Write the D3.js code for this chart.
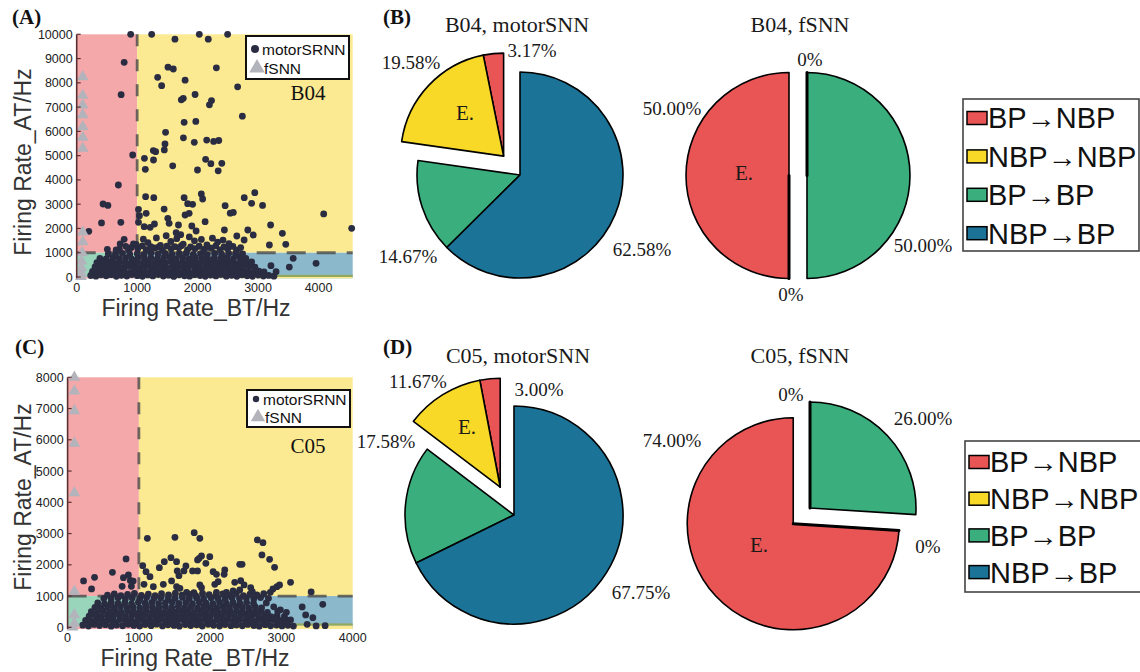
<!DOCTYPE html>
<html>
<head>
<meta charset="utf-8">
<script src="https://cdn.jsdelivr.net/npm/d3@7"></script>
<style>
  body { margin: 0; background: #ffffff; }
  svg { display: block; }
</style>
</head>
<body>
<svg id="fig" width="1140" height="672"></svg>
<script>
// ---------------------------------------------------------------
// Data
// ---------------------------------------------------------------
const transitionCategories = ["BP\u2192NBP", "NBP\u2192NBP", "BP\u2192BP", "NBP\u2192BP"];

// pie shares (%), in category order
const b04MotorShares = [3.17, 19.58, 14.67, 62.58];
const b04FsnnShares  = [50.00, 0, 50.00, 0];
const c05MotorShares = [3.00, 11.67, 17.58, 67.75];
const c05FsnnShares  = [74.00, 0, 26.00, 0];

const b04XTicks = [0, 1000, 2000, 3000, 4000];
const b04YTicks = [0, 1000, 2000, 3000, 4000, 5000, 6000, 7000, 8000, 9000, 10000];
const c05XTicks = [0, 1000, 2000, 3000, 4000];
const c05YTicks = [0, 1000, 2000, 3000, 4000, 5000, 6000, 7000, 8000];

// B04: firing rates [BT Hz, AT Hz] per neuron, motorSRNN — sparse high-rate neurons
const b04MotorSparse = [
  [893,10000],[1240,10000],[1625,9800],[2028,10000],[2176,9800],[2496,10000],
  [785,8846],[1339,8228],[1405,7885],[1510,8645],[1598,8571],[1793,8110],[2310,8620],[2662,7835],
  [735,7512],[1730,7300],[1763,7360],[1958,7520],[2230,7270],[2195,7095],[2740,6628],
  [1777,6374],[1970,6410],[1470,5962],[1460,5485],[1765,5735],[1945,5550],[2150,5640],[2265,5585],[2350,5625],
  [926,5027],[1120,4890],[1267,5210],[1306,5165],[1270,4821],[1449,5234],[1135,4437],[1588,4580],
  [2132,4849],[2219,4670],[2400,4684],[1998,4409],[2340,4375],
  [689,3791],[1140,3310],[1275,3270],[1777,3270],[2061,3420],[2083,3214],[1917,2995],[1835,3022],
  [2945,3475],[2771,3269],[2893,3036],[3074,2950],
  [436,3008],[516,2950],[1446,2800],[1022,2789],[1038,2527],[2455,2938],[2540,2630],[2590,2660],
  [2830,1937],[2920,1731],[3207,2143],[2648,1689],[4085,2600],[4548,2005],[3402,1800],[3458,1347],[3187,1318],
  [3581,769],[3517,410],[3959,564],[3213,466],[3298,218],
  [200,1880],[410,2230],[730,2253],[785,1553],[507,1141],[653,1112],[719,1360],[939,1360],
  [1022,2253],[1116,2074],[1149,2623],[1215,2047],[1286,2184],[1507,2418],[1529,2212],[1683,2143],
  [1645,1827],[1793,2555],[1860,2623],[1904,2101],[2124,2279],[1975,1895],[2443,1937],[2769,1525]
];

// B04: motorSRNN — dense low-rate population
const b04MotorDense = [
  [232,62],[318,35],[402,88],[487,48],[566,95],[655,30],[738,70],[829,42],[912,98],[1003,55],[1088,28],[1176,84],
  [1259,46],[1348,102],[1433,38],[1521,77],[1606,25],[1694,90],[1783,51],[1868,33],[1953,96],[2041,60],[2127,27],
  [2214,83],[2302,45],[2386,99],[2474,36],[2561,72],[2648,29],[2733,88],[2819,52],[2908,31],[3002,79],[3088,40],
  [3176,64],[3262,34],
  [262,228],[351,196],[444,251],[528,214],[618,262],[703,205],[787,240],[884,193],[968,257],[1061,220],[1149,188],
  [1243,246],[1327,209],[1418,265],[1503,199],[1592,238],[1677,212],[1772,255],[1858,190],[1951,231],[2038,268],
  [2124,203],[2207,244],[2303,216],[2388,259],[2483,192],[2566,235],[2652,207],[2741,250],[2833,224],[2917,189],
  [3012,242],[3098,211],
  [304,412],[397,378],[493,436],[577,395],[672,421],[758,382],[853,445],[947,401],[1042,372],[1128,430],[1223,389],
  [1308,447],[1402,406],[1487,376],[1583,438],[1668,398],[1763,425],[1848,384],[1943,442],[2028,409],[2123,374],
  [2208,433],[2304,392],[2388,449],[2483,403],[2567,380],[2662,428],[2748,395],[2853,437],[2947,404],
  [334,588],[428,560],[523,612],[617,574],[712,625],[807,566],[903,598],[998,621],[1093,571],[1187,606],[1283,563],
  [1378,617],[1472,582],[1568,629],[1663,568],[1757,603],[1853,576],[1948,623],[2043,587],[2137,562],[2233,611],
  [2328,579],[2423,626],[2518,592],[2612,565],[2707,608],[2802,584],[2893,619],
  [384,768],[488,742],[597,795],[703,756],[808,781],[913,739],[1018,802],[1122,761],[1227,788],[1333,745],[1437,779],
  [1543,808],[1647,750],[1752,786],[1858,742],[1963,799],[2068,765],[2172,736],[2277,792],[2383,758],[2487,783],
  [2592,747],[2698,806],[2797,770],
  [523,951],[642,928],[757,973],[878,940],[1002,962],[1113,918],[1228,985],[1347,944],[1463,969],[1578,925],
  [1697,958],[1813,982],[1928,935],[2052,966],[2158,921],[2283,977],[2397,942],[2512,964],[2628,929],[2742,956],
  [706,1140],[857,1112],[1012,1178],[1148,1125],[1292,1196],[1418,1108],[1563,1163],[1688,1201],[1832,1118],
  [1958,1172],[2103,1135],[2228,1189],[2372,1120],[2497,1158],[2643,1106],
  [812,1262],[905,1215],[1085,1283],[1226,1251],[1355,1230],[1490,1274],[1622,1248],[1731,1290],[1885,1236],
  [2025,1268],[2167,1226],[2301,1282],[2436,1244],[2584,1259],[2712,1213],
  [983,1342],[1178,1418],[1384,1305],[1557,1462],[1762,1356],[1948,1489],[2154,1327],[2331,1441],[2518,1372],
  [1102,1560],[1318,1612],[1655,1580],[1863,1651],[2062,1547],[2245,1598],[2420,1523],[1480,1700],[1720,1745]
];

// B04: fSNN neurons
const b04Fsnn = [
  [100,8250],[100,7480],[100,7080],[100,6680],[100,6190],[100,5750],[100,5300],
  [100,1850],[100,1450],[90,1000],[80,650],[80,380],[75,150],[70,20]
];

// C05: motorSRNN — sparse neurons above the dense band
const c05MotorSparse = [
  [1119,2848],[1506,2880],[1776,3029],[1855,2848],[2662,2795],[2741,2709],[2727,2315],[2834,2176],[2904,1920],
  [3128,1440],[3417,1131],[3580,736],[3291,651],[3340,395],[3441,309],[3487,43],[3613,53],[3361,96],
  [3070,480],[2985,560],[3080,230],[2900,290],[2975,130],
  [820,2187],[629,1760],[378,1600],[224,1483],[336,1227],[783,1589],[853,1675],[880,1500],[920,1480],[895,1310],[765,1310],
  [1054,1973],[1100,1781],[1156,1621],[1072,1376],[1203,1301],[1287,1909],[1357,2101],[1450,2229],[1529,2101],
  [1538,1803],[1562,1653],[1660,1963],[1632,1803],[1753,1803],[1823,2155],[1846,2208],[1879,2283],[1940,2048],
  [1995,2261],[1823,1803],[2042,1781],[2088,1696],[2205,1835],[2196,1696],[2415,2016],[2448,2016],[2429,1493],
  [2345,1440],[2476,1355],[2112,1461],[2065,1376],[1855,1355],[1879,1269],[1459,1483],[1529,1301],[1343,1376],
  [2569,1269],[2592,1141],[2881,1227],[2937,1301],[2974,1355],[2844,1120],[2415,1195],[2322,1163],[2228,1120],
  [2088,1120],[1669,1120],[1576,1248],[1772,1109]
];

// C05: motorSRNN — dense low-rate population
const c05MotorDense = [
  [212,68],[293,41],[372,92],[448,55],[531,83],[612,37],[688,74],[772,49],[851,95],[928,60],[1011,38],[1089,86],
  [1172,52],[1248,99],[1331,44],[1409,78],[1492,61],[1568,35],[1652,90],[1728,57],[1811,81],[1889,42],[1972,96],
  [2048,63],[2131,39],[2209,87],[2292,53],[2368,75],[2451,46],[2528,93],[2612,58],[2689,36],[2772,84],[2848,50],
  [2931,70],[3008,44],[3091,62],[3168,39],
  [253,218],[331,196],[412,241],[489,207],[572,233],[648,192],[731,247],[812,211],[889,229],[972,199],[1049,244],
  [1131,215],[1212,188],[1291,238],[1372,204],[1449,226],[1532,193],[1611,249],[1689,212],[1772,236],[1851,201],
  [1929,243],[2012,190],[2091,228],[2169,209],[2252,246],[2331,197],[2409,232],[2492,214],[2571,240],[2649,195],
  [2732,225],[2811,206],[2889,248],[2972,218],[3051,200],[3128,236],
  [302,356],[388,378],[471,339],[558,370],[641,348],[727,384],[812,343],[898,367],[983,352],[1068,389],[1151,337],
  [1238,364],[1322,381],[1407,345],[1493,372],[1578,341],[1661,386],[1748,358],[1832,338],[1917,375],[2002,349],
  [2088,383],[2171,344],[2258,368],[2342,336],[2427,379],[2512,353],[2597,388],[2681,347],[2767,371],[2852,340],
  [2938,366],[3041,352],
  [333,497],[418,472],[502,518],[588,485],[673,509],[757,478],[843,522],[928,490],[1012,475],[1098,514],[1183,488],
  [1268,524],[1352,471],[1438,505],[1522,482],[1607,519],[1693,493],[1777,470],[1862,511],[1947,486],[2033,521],
  [2117,477],[2202,502],[2288,489],[2372,517],[2457,473],[2543,508],[2627,492],[2712,523],[2803,480],[2948,510],
  [384,638],[472,617],[563,654],[651,629],[742,661],[832,622],[921,647],[1013,615],[1102,658],[1191,633],[1283,619],
  [1372,652],[1461,628],[1553,664],[1642,621],[1731,645],[1823,612],[1912,657],[2001,632],[2093,618],[2182,650],
  [2271,626],[2363,662],[2452,637],[2541,615],[2633,649],[2722,624],[2892,655],
  [423,778],[518,756],[612,795],[707,764],[803,787],[897,752],[993,798],[1088,769],[1182,791],[1278,758],[1372,782],
  [1468,801],[1562,761],[1658,789],[1752,755],[1848,794],[1943,771],[2038,759],[2132,797],[2228,766],[2322,785],
  [2418,753],[2512,792],[2608,768],[2788,781],
  [508,927],[611,902],[708,948],[812,915],[907,939],[1011,908],[1108,952],[1212,921],[1307,944],[1411,905],
  [1508,933],[1612,957],[1707,918],[1811,941],[1908,910],[2012,949],[2107,926],[2211,903],[2307,946],[2411,919],
  [2508,937],[2612,912],[2707,951],[2818,928],
  [560,1032],[655,1068],[748,1015],[842,1052],[938,1088],[1035,1021],[1133,1064],[1227,1009],[1318,1077],
  [1416,1038],[1512,1092],[1605,1026],[1703,1058],[1797,1013],[1893,1081],[1986,1044],[2083,1017],[2177,1069],
  [2274,1031],[2368,1084],[2466,1012],[2559,1057],[2655,1036],[2752,1073]
];

// C05: fSNN neurons
const c05Fsnn = [
  [95,8000],[95,7560],[95,6930],[95,5890],[95,4300],[95,1150],[95,400],[95,130],[70,10]
];

// ---------------------------------------------------------------
// Styling
// ---------------------------------------------------------------
const SANS = "'Liberation Sans', Arial, Helvetica, sans-serif";
const SERIF = "'Liberation Serif', 'Times New Roman', Times, serif";
const SLICE_COLORS = ["#e95455", "#f8d927", "#3aae7d", "#1c7398"];
const ZONE_COLORS = { red: "#f4a8a9", yellow: "#fbea92", green: "#98d5bb", blue: "#8bb8cb", olive: "#93a95e" };
const DOT_COLOR = "#2a2c42";
const TRI_COLOR = "#b3b3bc";

const svg = d3.select("#fig");

// ---------------------------------------------------------------
// Scatter panels (A, C)
// ---------------------------------------------------------------
function scatterPanel(p) {
  const x = d3.scaleLinear().domain(p.xDomain).range(p.xRange);
  const y = d3.scaleLinear().domain(p.yDomain).range(p.yRange);
  const g = svg.append("g");
  const xMax = p.xDomain[1], yMax = p.yDomain[1], yMin = -55, thr = 1000;

  // region backgrounds (BP / NBP quadrants)
  const zones = [
    { x0: 0,   x1: thr,  y0: thr,          y1: yMax,         c: ZONE_COLORS.red },
    { x0: thr, x1: xMax, y0: thr,          y1: yMax,         c: ZONE_COLORS.yellow },
    { x0: 0,   x1: thr,  y0: yMin,         y1: thr,          c: ZONE_COLORS.green },
    { x0: thr, x1: xMax, y0: yMin,         y1: thr,          c: ZONE_COLORS.blue },
    { x0: thr, x1: xMax, y0: p.strip[0],   y1: p.strip[1],   c: ZONE_COLORS.olive },
    { x0: thr, x1: xMax, y0: yMin,         y1: p.strip[0],   c: ZONE_COLORS.yellow },
    { x0: 0,   x1: thr,  y0: yMin,         y1: p.strip[0],   c: ZONE_COLORS.red }
  ];
  g.selectAll("rect.zone").data(zones).join("rect")
    .attr("class", "zone")
    .attr("x", d => x(d.x0)).attr("width", d => x(d.x1) - x(d.x0))
    .attr("y", d => y(d.y1)).attr("height", d => y(d.y0) - y(d.y1))
    .attr("fill", d => d.c);

  // threshold lines
  g.append("line")
    .attr("x1", x(thr)).attr("x2", x(thr)).attr("y1", y(yMax)).attr("y2", y(yMin))
    .attr("stroke", "#4a4a4a").attr("stroke-opacity", 0.8).attr("stroke-width", 2.8)
    .attr("stroke-dasharray", "12,13");
  g.append("line")
    .attr("x1", x(0)).attr("x2", x(xMax)).attr("y1", y(thr)).attr("y2", y(thr))
    .attr("stroke", "#4a4a4a").attr("stroke-opacity", 0.8).attr("stroke-width", 2.8)
    .attr("stroke-dasharray", "19,11");

  // motorSRNN neurons
  g.selectAll("circle.motor").data(p.dense.concat(p.sparse)).join("circle")
    .attr("class", "motor")
    .attr("cx", d => x(d[0])).attr("cy", d => y(d[1])).attr("r", 3.4)
    .attr("fill", DOT_COLOR);

  // fSNN neurons
  const tri = d3.symbol().type(d3.symbolTriangle).size(60);
  g.selectAll("path.fsnn").data(p.fsnn).join("path")
    .attr("class", "fsnn")
    .attr("transform", d => `translate(${x(d[0])},${y(d[1])})`)
    .attr("d", tri).attr("fill", TRI_COLOR);

  // y axis
  const axisColor = "#5b2f30";
  g.append("line")
    .attr("x1", x(0)).attr("x2", x(0)).attr("y1", y(yMax)).attr("y2", y(yMin))
    .attr("stroke", axisColor).attr("stroke-width", 1.6);
  g.selectAll("line.ytick").data(p.yTicks).join("line")
    .attr("class", "ytick")
    .attr("x1", x(0)).attr("x2", x(0) + 4)
    .attr("y1", d => y(d)).attr("y2", d => y(d))
    .attr("stroke", axisColor).attr("stroke-width", 1.2);
  g.selectAll("text.ylab").data(p.yTicks).join("text")
    .attr("class", "ylab")
    .attr("x", x(0) - 4).attr("y", d => y(d)).attr("dy", "0.36em")
    .attr("text-anchor", "end")
    .attr("font-family", SANS).attr("font-size", 12.5).attr("fill", "#222")
    .text(d => d);
  g.selectAll("text.xlab").data(p.xTicks).join("text")
    .attr("class", "xlab")
    .attr("x", d => x(d)).attr("y", y(0) + 14.5)
    .attr("text-anchor", "middle")
    .attr("font-family", SANS).attr("font-size", 12.5).attr("fill", "#222")
    .text(d => d);

  // axis titles
  g.append("text")
    .attr("x", p.xTitle[0]).attr("y", p.xTitle[1])
    .attr("text-anchor", "middle")
    .attr("font-family", SANS).attr("font-size", 23).attr("fill", "#333")
    .text("Firing Rate_BT/Hz");
  g.append("text")
    .attr("transform", `translate(${p.yTitle[0]},${p.yTitle[1]}) rotate(-90)`)
    .attr("text-anchor", "middle")
    .attr("font-family", SANS).attr("font-size", 23).attr("fill", "#333")
    .text("Firing Rate_AT/Hz");

  // legend
  const L = p.legend;
  g.append("rect")
    .attr("x", L.x).attr("y", L.y).attr("width", L.w).attr("height", L.h)
    .attr("fill", "#fff").attr("stroke", "#111").attr("stroke-width", 2);
  g.append("circle").attr("cx", L.x + 9).attr("cy", L.row1).attr("r", L.dotR).attr("fill", DOT_COLOR);
  g.append("text").attr("x", L.x + 16).attr("y", L.row1).attr("dy", "0.36em")
    .attr("font-family", SANS).attr("font-size", 15.5).attr("fill", "#111").text("motorSRNN");
  g.append("path")
    .attr("transform", `translate(${L.x + 11},${L.row2})`)
    .attr("d", d3.symbol().type(d3.symbolTriangle).size(L.triSize)).attr("fill", TRI_COLOR);
  g.append("text").attr("x", L.x + 18).attr("y", L.row2).attr("dy", "0.4em")
    .attr("font-family", SANS).attr("font-size", 15.5).attr("fill", "#111").text("fSNN");

  // dataset tag
  g.append("text").attr("x", p.tag[0]).attr("y", p.tag[1])
    .attr("text-anchor", "middle")
    .attr("font-family", SERIF).attr("font-size", 21).attr("fill", "#111")
    .text(p.tagText);
  return g;
}

scatterPanel({
  xDomain: [0, 4565], xRange: [76.7, 352.7],
  yDomain: [0, 10000], yRange: [277, 34.3],
  xTicks: b04XTicks, yTicks: b04YTicks,
  strip: [0, 90],
  dense: b04MotorDense, sparse: b04MotorSparse, fsnn: b04Fsnn,
  xTitle: [196, 315.5], yTitle: [31, 162],
  legend: { x: 246, y: 36, w: 103, h: 43, row1: 49, row2: 68, dotR: 4, triSize: 105 },
  tag: [308, 100], tagText: "B04"
});

scatterPanel({
  xDomain: [0, 4000], xRange: [67.6, 352.7],
  yDomain: [0, 8000], yRange: [627.3, 377.3],
  xTicks: c05XTicks, yTicks: c05YTicks,
  strip: [50, 125],
  dense: c05MotorDense, sparse: c05MotorSparse, fsnn: c05Fsnn,
  xTitle: [195, 665.5], yTitle: [31, 497],
  legend: { x: 247, y: 390, w: 103, h: 37, row1: 399, row2: 417, dotR: 3.2, triSize: 90 },
  tag: [308, 453], tagText: "C05"
});

// ---------------------------------------------------------------
// Pie panels (B, D)
// ---------------------------------------------------------------
const fmtShare = v => v === 0 ? "0%" : v.toFixed(2) + "%";

function piePanel(p) {
  const g = svg.append("g").attr("transform", `translate(${p.cx},${p.cy})`);
  // slices laid out counter-clockwise from 12 o'clock
  const arcs = d3.pie().sort(null).value(d => d).startAngle(0).endAngle(-2 * Math.PI)(p.shares);
  const arc = d3.arc().innerRadius(0).outerRadius(p.r);
  // the first two categories are pulled out together
  const mid = (arcs[0].startAngle + arcs[1].endAngle) / 2;
  const ex = Math.sin(mid) * p.explode, ey = -Math.cos(mid) * p.explode;

  g.selectAll("path.slice").data(arcs).join("path")
    .attr("class", "slice")
    .attr("transform", (d, i) => i < 2 ? `translate(${ex},${ey})` : null)
    .attr("d", arc)
    .attr("fill", (d, i) => SLICE_COLORS[i])
    .attr("stroke", "#000")
    .attr("stroke-width", d => d.value === 0 ? 3 : 1.6)
    .attr("stroke-linejoin", "round");

  g.selectAll("text.pct").data(arcs).join("text")
    .attr("class", "pct")
    .attr("x", (d, i) => p.labelPos[i][0]).attr("y", (d, i) => p.labelPos[i][1])
    .attr("dy", "0.35em").attr("text-anchor", "middle")
    .attr("font-family", SERIF).attr("font-size", 19).attr("fill", "#1a1a1a")
    .text(d => fmtShare(d.value));

  g.append("text")
    .attr("x", p.ePos[0]).attr("y", p.ePos[1]).attr("dy", "0.35em")
    .attr("text-anchor", "middle")
    .attr("font-family", SERIF).attr("font-size", 21).attr("fill", "#1a1a1a")
    .text("E.");

  svg.append("text")
    .attr("x", p.title[0]).attr("y", p.title[1]).attr("text-anchor", "middle")
    .attr("font-family", SERIF).attr("font-size", 22).attr("fill", "#1a1a1a")
    .text(p.titleText);
}

piePanel({ cx: 520, cy: 175, r: 103, explode: 25, shares: b04MotorShares,
  labelPos: [[12, -125], [-109, -113], [-112, 81], [122, 74]], ePos: [-55, -62],
  title: [517, 32], titleText: "B04, motorSNN" });
piePanel({ cx: 807, cy: 175.5, r: 103, explode: 18, shares: b04FsnnShares,
  labelPos: [[-135, -67], [-16, 118.5], [116, 69.5], [3, -116.5]], ePos: [-63, -3],
  title: [800, 32], titleText: "B04, fSNN" });
piePanel({ cx: 514, cy: 515, r: 109, explode: 31, shares: c05MotorShares,
  labelPos: [[25, -126], [-96, -134], [-128, -74], [127, 77]], ePos: [-47, -88],
  title: [518, 363], titleText: "C05, motorSNN" });
piePanel({ cx: 810, cy: 508, r: 106, explode: 23, shares: c05FsnnShares,
  labelPos: [[-138, -68], [118, 38], [113, -90], [-19, -114]], ePos: [-51, 37],
  title: [800, 363], titleText: "C05, fSNN" });

// ---------------------------------------------------------------
// Category legends
// ---------------------------------------------------------------
function categoryLegend(L) {
  const g = svg.append("g");
  g.append("rect").attr("x", L.x).attr("y", L.y).attr("width", L.w).attr("height", L.h)
    .attr("fill", "#fff").attr("stroke", "#444").attr("stroke-width", 1.6);
  const rows = g.selectAll("g.row").data(transitionCategories).join("g")
    .attr("class", "row")
    .attr("transform", (d, i) => `translate(${L.x + 4},${L.row0 + i * L.step})`);
  rows.append("rect").attr("x", 0).attr("y", -6.5).attr("width", 20).attr("height", 13)
    .attr("fill", (d, i) => SLICE_COLORS[i]).attr("stroke", "#000").attr("stroke-width", 1.5);
  rows.append("text").attr("x", 21).attr("y", 0).attr("dy", "0.36em")
    .attr("font-family", SANS).attr("font-size", 29).attr("fill", "#111")
    .text(d => d);
}
categoryLegend({ x: 963, y: 99, w: 176, h: 152, row0: 118, step: 38.4 });
categoryLegend({ x: 965, y: 441, w: 176, h: 151, row0: 462, step: 36.7 });

// ---------------------------------------------------------------
// Panel letters
// ---------------------------------------------------------------
const panelLetters = [["(A)", 12, 24], ["(B)", 383, 24], ["(C)", 15, 354], ["(D)", 383, 354]];
svg.selectAll("text.letter").data(panelLetters).join("text")
  .attr("class", "letter")
  .attr("x", d => d[1]).attr("y", d => d[2])
  .attr("font-family", SERIF).attr("font-weight", "bold").attr("font-size", 21).attr("fill", "#111")
  .text(d => d[0]);
</script>
</body>
</html>
